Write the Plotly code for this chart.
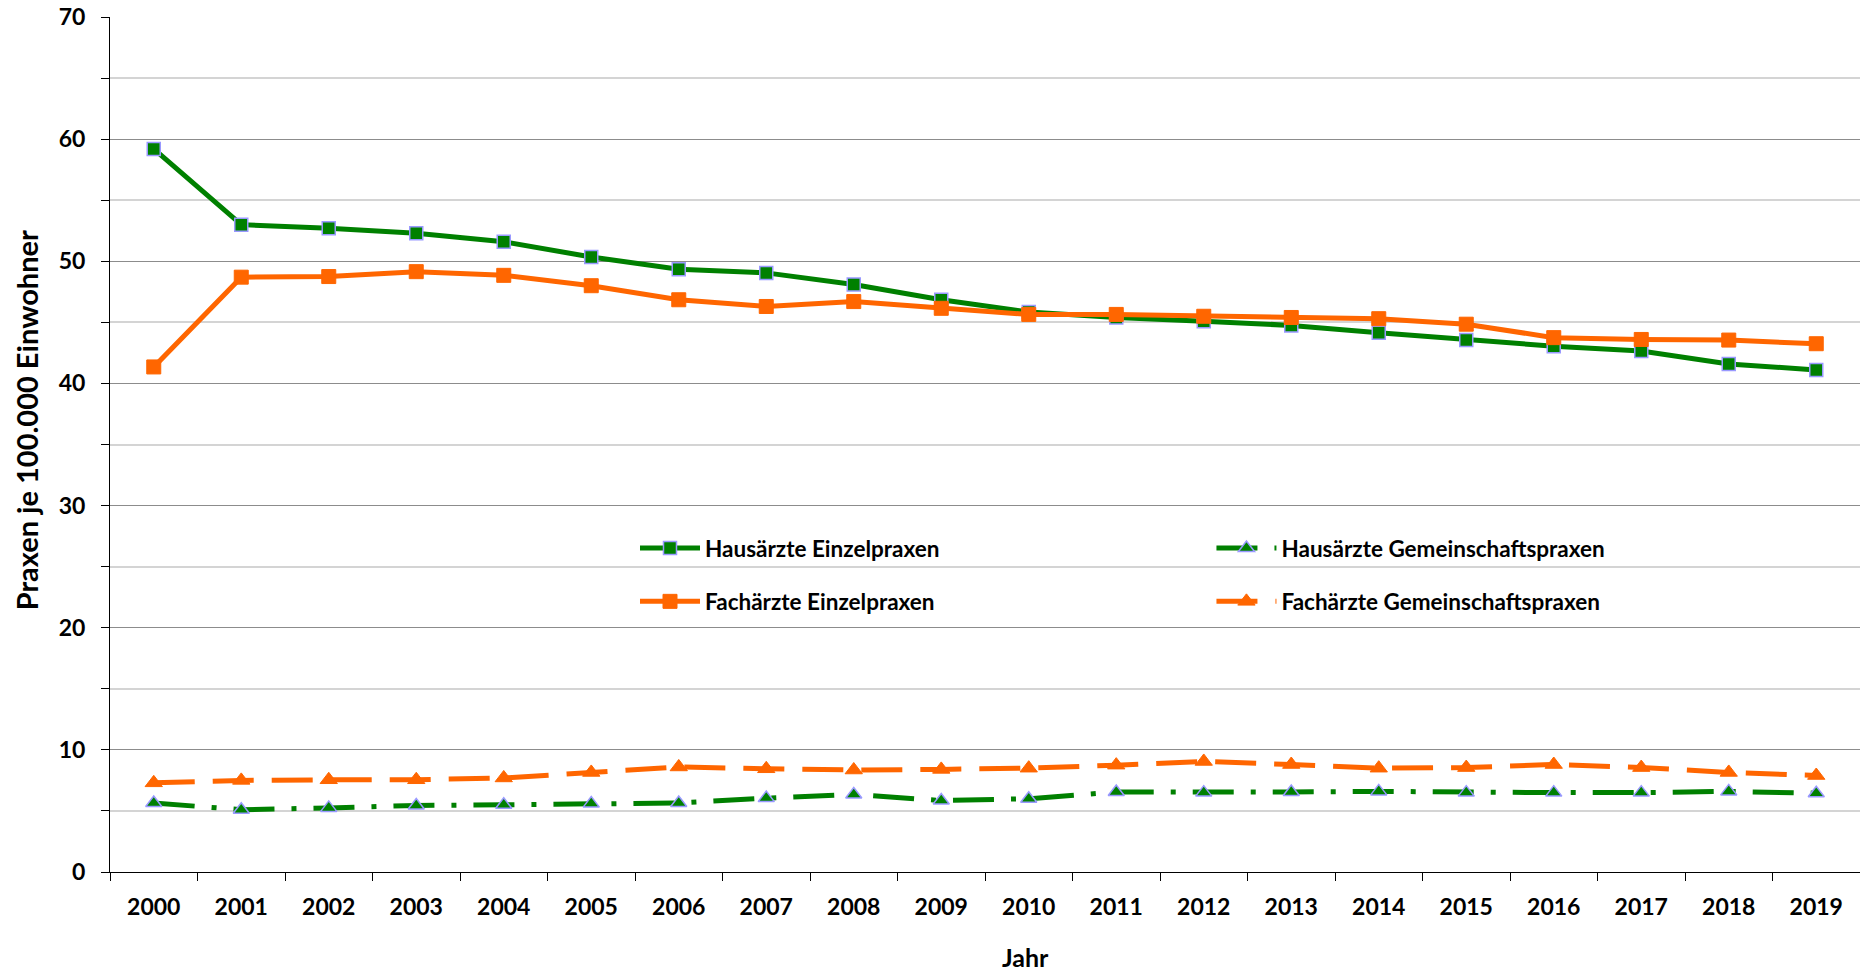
import plotly.graph_objects as go

years = [str(y) for y in range(2000, 2020)]

haus_einzel = [59.2, 53.0, 52.7, 52.3, 51.6, 50.35, 49.35, 49.05, 48.1, 46.85,
               45.85, 45.4, 45.1, 44.75, 44.15, 43.55, 43.05, 42.65, 41.6, 41.1]
fach_einzel = [41.35, 48.7, 48.75, 49.15, 48.85, 48.0, 46.85, 46.3, 46.7, 46.15,
               45.65, 45.65, 45.5, 45.4, 45.3, 44.85, 43.75, 43.6, 43.55, 43.25]
haus_gem = [5.65, 5.1, 5.25, 5.45, 5.5, 5.6, 5.65, 6.05, 6.35, 5.85,
            6.0, 6.55, 6.5, 6.55, 6.6, 6.5, 6.5, 6.5, 6.6, 6.45]
fach_gem = [7.3, 7.5, 7.55, 7.55, 7.7, 8.15, 8.6, 8.45, 8.35, 8.4,
            8.5, 8.75, 9.05, 8.8, 8.5, 8.55, 8.8, 8.55, 8.15, 7.9]

names = ["Hausärzte Einzelpraxen", "Fachärzte Einzelpraxen",
         "Hausärzte Gemeinschaftspraxen", "Fachärzte Gemeinschaftspraxen"]
y_title = "Praxen je 100.000 Einwohner"
x_title = "Jahr"

GREEN = "#008000"
ORANGE = "#FF6600"
BORDER = "#9999FF"
FONT = "Lato"

fig = go.Figure()

fig.add_trace(go.Scatter(
    x=years, y=haus_einzel, name=names[0], mode="lines+markers",
    line=dict(color=GREEN, width=5),
    marker=dict(symbol="square", size=13, color=GREEN, line=dict(color=BORDER, width=1.5)),
    legend="legend", legendgroup="a"))
fig.add_trace(go.Scatter(
    x=years, y=fach_einzel, name=names[1], mode="lines+markers",
    line=dict(color=ORANGE, width=5),
    marker=dict(symbol="square", size=14, color=ORANGE, line=dict(color=ORANGE, width=1)),
    legend="legend", legendgroup="b"))
fig.add_trace(go.Scatter(
    x=years, y=haus_gem, name=names[2], mode="lines+markers",
    line=dict(color=GREEN, width=5, dash="41px,17px,5px,17px"),
    marker=dict(symbol="triangle-up", size=14, color=GREEN, line=dict(color=BORDER, width=1.5)),
    legend="legend2", legendgroup="c"))
fig.add_trace(go.Scatter(
    x=years, y=fach_gem, name=names[3], mode="lines+markers",
    line=dict(color=ORANGE, width=5, dash="41px,18px"),
    marker=dict(symbol="triangle-up", size=15, color=ORANGE, line=dict(color=ORANGE, width=1)),
    legend="legend2", legendgroup="d"))

legend_common = dict(
    font=dict(family=FONT, size=22.5, color="black", weight="bold"),
    bgcolor="rgba(0,0,0,0)", traceorder="grouped", tracegroupgap=21,
    yanchor="middle", y=0.3474, xanchor="left", itemwidth=60,
)

fig.update_layout(
    width=1860, height=971,
    margin=dict(l=110, r=0, t=17, b=99),
    paper_bgcolor="white", plot_bgcolor="white",
    font=dict(family=FONT, color="black"),
    showlegend=True,
    legend=dict(x=0.30, **legend_common),
    legend2=dict(x=0.6294, **legend_common),
    xaxis=dict(
        type="category", range=[-0.5, 19.5], tickson="boundaries",
        ticks="outside", ticklen=8, tickcolor="black", tickwidth=1,
        showline=True, linecolor="black", linewidth=1, automargin=False,
        showgrid=False, zeroline=False, ticklabelstandoff=14,
        tickfont=dict(family=FONT, size=23, color="black", weight="bold"),
    ),
    yaxis=dict(
        range=[0, 70], dtick=10, tick0=0,
        ticks="outside", ticklen=8, tickcolor="black", tickwidth=1,
        showline=True, linecolor="black", linewidth=1, automargin=False,
        showgrid=True, gridcolor="#8c8c8c", gridwidth=1,
        zeroline=False, ticklabelstandoff=11, ticklabeloverflow="allow",
        minor=dict(dtick=5, tick0=0, showgrid=True, gridcolor="#d4d4d4", gridwidth=1.5,
                   ticks="outside", ticklen=8, tickcolor="black"),
        tickfont=dict(family=FONT, size=23, color="black", weight="bold"),
    ),
    annotations=[
        dict(text=y_title, textangle=-90, xref="paper", yref="paper",
             x=-0.048, y=0.5283, xanchor="center", yanchor="middle", showarrow=False,
             font=dict(family=FONT, size=29, color="black", weight="bold")),
        dict(text=x_title, xref="paper", yref="paper",
             x=0.5234, y=-0.0995, xanchor="center", yanchor="middle", showarrow=False,
             font=dict(family=FONT, size=25, color="black", weight="bold")),
    ],
)

# remove the browser's default 8px body margin so the figure fills the window exactly
fig.write_html("out.html", config={"displayModeBar": False},
               post_script="document.body.style.margin='0';")
